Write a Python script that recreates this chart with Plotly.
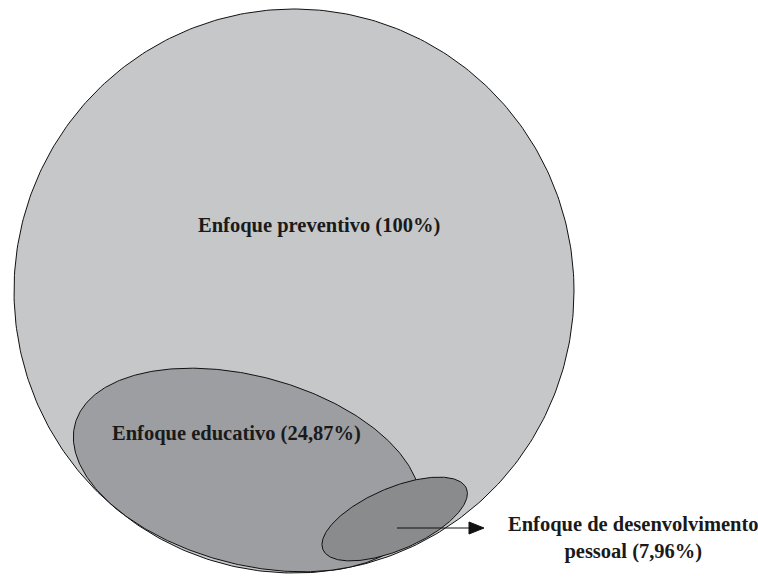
import numpy as np
import plotly.graph_objects as go

# ---- data ----
categories = ["Enfoque preventivo", "Enfoque educativo", "Enfoque de desenvolvimento pessoal"]
percentages = [100, 24.87, 7.96]
label_texts = ["Enfoque preventivo (100%)",
               "Enfoque educativo (24,87%)",
               "Enfoque de desenvolvimento<br>pessoal (7,96%)"]

# ---- geometry (pixel-like coordinates of the drawing area) ----
# centre x, centre y, semi-axis a, semi-axis b, rotation (deg, screen, y down)
shapes_geom = [
    (294.0, 291.0, 280.0, 282.0, 0.0),
    (247.0, 470.0, 178.0, 94.0, 15.0),
    (394.7, 519.0, 78.0, 31.0, -23.2),
]
fills = ["#c6c7c9", "#9d9ea1", "#8a8b8d"]
label_pos = [(319, 225), (236, 433), (633, 538)]

W, H = 758, 577
fig = go.Figure()

t = np.linspace(0, 2 * np.pi, 400)
for (cx, cy, a, b, ang), col in zip(shapes_geom, fills):
    th = np.deg2rad(ang)
    x = cx + a * np.cos(t) * np.cos(th) - b * np.sin(t) * np.sin(th)
    y = cy + a * np.cos(t) * np.sin(th) + b * np.sin(t) * np.cos(th)
    fig.add_trace(go.Scatter(x=x, y=y, mode="lines", fill="toself",
                             fillcolor=col, line=dict(color="#111111", width=1),
                             hoverinfo="skip", showlegend=False))

font = dict(family="Liberation Serif, Times New Roman, serif", size=20.5, color="#1a1a1a")
for (lx, ly), txt in zip(label_pos, label_texts):
    fig.add_annotation(x=lx, y=ly, text="<b>" + txt + "</b>", showarrow=False,
                       font=font, xanchor="center", yanchor="middle", align="center")

# arrow from the small ellipse to its label
ax0, ax1, ay = 397, 484, 528
head = 15
fig.add_shape(type="line", x0=ax0, y0=ay, x1=ax1 - head, y1=ay,
              line=dict(color="#111111", width=1.2))
fig.add_shape(type="path",
              path=f"M {ax1 - head} {ay - 6} L {ax1} {ay} L {ax1 - head} {ay + 6} Z",
              fillcolor="#111111", line=dict(color="#111111", width=1))

fig.update_layout(width=W, height=H, margin=dict(l=0, r=0, t=0, b=0),
                  paper_bgcolor="white", plot_bgcolor="white",
                  xaxis=dict(range=[0, W], visible=False, fixedrange=True),
                  yaxis=dict(range=[H, 0], visible=False, fixedrange=True))

fig.write_html("out.html", config={"displayModeBar": False},
               post_script="document.body.style.margin='0';document.body.style.overflow='hidden';")
